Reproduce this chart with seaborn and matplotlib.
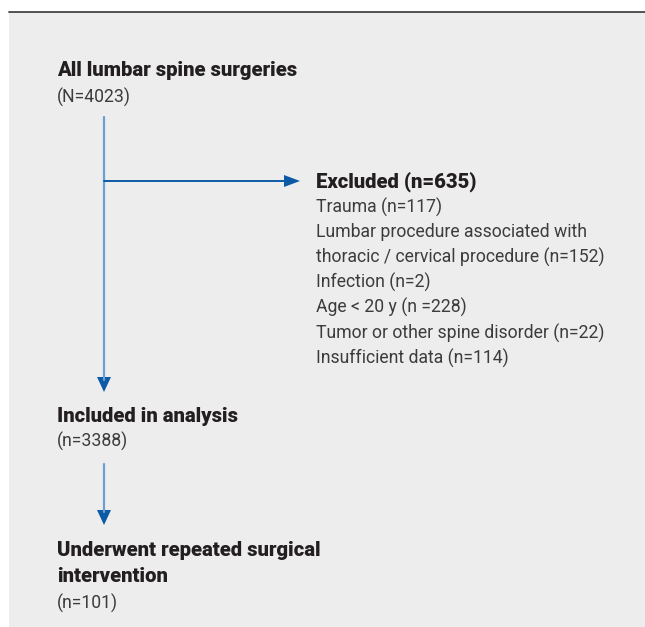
import matplotlib
matplotlib.use("Agg")
import matplotlib.pyplot as plt
import seaborn as sns
from matplotlib.patches import Rectangle

sns.set_theme(style="white")
plt.rcParams['font.family'] = ['Roboto', 'DejaVu Sans']

# Flow stages and counts
stage_titles = ["All lumbar spine surgeries", "Included in analysis",
                "Underwent repeated surgical\nintervention"]
stage_counts = ["(N=4023)", "(n=3388)", "(n=101)"]
excluded_title = "Excluded (n=635)"
excluded_reasons = ["Trauma (n=117)",
                    "Lumbar procedure associated with",
                    "thoracic / cervical procedure (n=152)",
                    "Infection (n=2)",
                    "Age < 20 y (n =228)",
                    "Tumor or other spine disorder (n=22)",
                    "Insufficient data (n=114)"]

W, H = 645, 627
fig = plt.figure(figsize=(W / 100, H / 100), dpi=100)
ax = fig.add_axes([0, 0, 1, 1])
ax.set_xlim(0, W)
ax.set_ylim(H, 0)
ax.axis("off")

bg = "#ededed"
ax.add_patch(Rectangle((9, 12), W - 9, H - 12, facecolor=bg, edgecolor="none"))
ax.plot([9, W], [12, 12], color="#444444", lw=1.3)

dark = "#231f20"
grey = "#3c3c3c"
lblue = "#6c9fd2"
dblue = "#0c5aa6"
fs_b = 14.6
fs_r = 12.7

def bold(x, y, s):
    ax.text(x, y, s, fontsize=fs_b, fontweight="heavy", color=dark, va="center")

def reg(x, y, s):
    ax.text(x, y, s, fontsize=fs_r, color=grey, va="center")

# Stage 1
bold(57, 70, stage_titles[0])
reg(57, 97, stage_counts[0])

# Stage 2
bold(57, 416, stage_titles[1])
reg(57, 441, stage_counts[1])

# Stage 3
t3 = stage_titles[2].split("\n")
bold(57, 551, t3[0])
bold(57, 577, t3[1])
reg(57, 603, stage_counts[2])

# Excluded
bold(316, 182, excluded_title)
for i, r in enumerate(excluded_reasons):
    reg(316, 207 + i * 25.2, r)

# Arrows
ax.plot([104, 104], [117, 380], color=lblue, lw=1.6)
ax.fill([97, 111, 104], [377, 377, 392], color=dblue, lw=0)
ax.plot([104, 286], [181, 181], color=dblue, lw=1.4)
ax.fill([284, 284, 300], [175, 187, 181], color=dblue, lw=0)
ax.plot([104, 104], [464, 512], color=lblue, lw=1.6)
ax.fill([97, 111, 104], [510, 510, 525], color=dblue, lw=0)

fig.savefig("out.png", dpi=100, facecolor="white")
